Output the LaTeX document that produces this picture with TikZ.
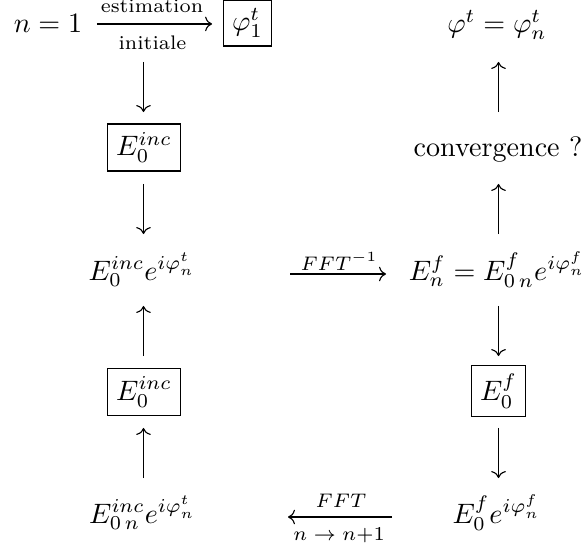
\documentclass[tikz,border=0pt]{standalone}
\usetikzlibrary{arrows.meta}
\begin{document}
\begin{tikzpicture}[x=0.356pt,y=-0.356pt,
  arr/.style={-{Computer Modern Rightarrow}, line width=0.4pt},
  varr/.style={arr, shorten <=12.8pt, shorten >=12.8pt},
  boxed/.style={draw, line width=0.4pt, inner sep=3pt},
  lab/.style={font=\scriptsize, inner sep=0pt}]
\useasboundingbox (0,0) rectangle (587,548);
% column grid
\coordinate (L1) at (143.5,26);
\coordinate (L2) at (143.5,148);
\coordinate (L3) at (143.5,270);
\coordinate (L4) at (143.5,392);
\coordinate (L5) at (143.5,514);
\coordinate (R1) at (498.5,26);
\coordinate (R2) at (498.5,148);
\coordinate (R3) at (498.5,270);
\coordinate (R4) at (498.5,392);
\coordinate (R5) at (498.5,514);
% top row
\node[anchor=base] (n1) at (48,33) {$n=1$};
\node[boxed] (phi1) at (247.5,23) {$\varphi_1^t$};
\draw[arr, shorten <=1.7pt, shorten >=3.9pt] (n1.east) -- (n1.east -| phi1.west);
\node[lab, anchor=base] (est) at (152,13) {estimation};
\node[lab, anchor=base] (ini) at (152.5,50) {initiale};
\node[anchor=base] (phit) at (497,33) {$\varphi^t=\varphi^t_n$};
% boxes and texts
\node[boxed] (b1) at (144,147.5) {$E_0^{inc}$};
\node[anchor=base] (conv) at (498,156) {convergence ?};
\node[anchor=base] (m3l) at (142,280) {$E_0^{inc}e^{i\varphi_n^t}$};
\node[anchor=base] (m3r) at (497,280) {$E_n^f=E^f_{0\,n}e^{i\varphi_n^f}$};
\node[boxed] (b2) at (144,392) {$E_0^{inc}$};
\node[boxed] (b3) at (498.5,391) {$E_0^f$};
\node[anchor=base] (m5l) at (142.5,523) {$E^{inc}_{0\,n}e^{i\varphi_n^t}$};
\node[anchor=base] (m5r) at (496.5,523) {$E_0^f e^{i\varphi_n^f}$};
% vertical arrows
\draw[varr] (L1) -- (L2);
\draw[varr] (L2) -- (L3);
\draw[varr] (L4) -- (L3);
\draw[varr] (L5) -- (L4);
\draw[varr] (R2) -- (R1);
\draw[varr] (R3) -- (R2);
\draw[varr] (R3) -- (R4);
\draw[varr] (R4) -- (R5);
% horizontal arrows
\coordinate (f1a) at (290,274);
\coordinate (f1b) at (386,274);
\draw[arr] (f1a) -- (f1b);
\node[lab, anchor=base] (fft1) at (339,270) {$FFT^{-1}$};
\coordinate (f2a) at (392,517);
\coordinate (f2b) at (288,517);
\draw[arr] (f2a) -- (f2b);
\node[lab, anchor=base] (fft2) at (341,507) {$FFT$};
\node[lab, anchor=base] (nn) at (339,540) {$n\rightarrow n{+}1$};
\end{tikzpicture}
\end{document}
